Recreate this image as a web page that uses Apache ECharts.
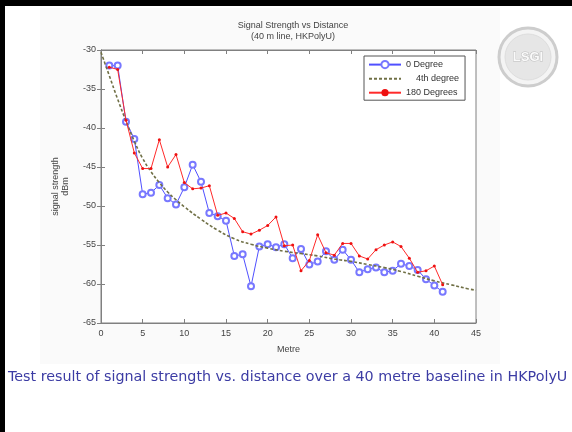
<!DOCTYPE html>
<html><head><meta charset="utf-8">
<script src="https://cdn.jsdelivr.net/npm/echarts@6/dist/echarts.min.js"></script>
<style>html,body{margin:0;padding:0;background:#fff}#c{width:572px;height:432px}</style>
</head><body><div id="c"></div>
<script>
// Distance along the line (metres)
const metres = [1,2,3,4,5,6,7,8,9,10,11,12,13,14,15,16,17,18,19,20,21,22,23,24,25,26,27,28,29,30,31,32,33,34,35,36,37,38,39,40,41];
// 0 Degree measurements (dBm)
const deg0 = [-32.0,-32.0,-39.2,-41.4,-48.5,-48.3,-47.3,-49.0,-49.8,-47.6,-44.7,-46.9,-50.9,-51.3,-51.9,-56.4,-56.2,-60.3,-55.2,-54.9,-55.3,-54.9,-56.7,-55.5,-57.5,-57.1,-55.8,-56.9,-55.6,-56.9,-58.5,-58.1,-57.9,-58.5,-58.3,-57.4,-57.7,-58.2,-59.4,-60.2,-61.0];
// 180 Degrees measurements (dBm)
const deg180 = [-32.2,-32.5,-39.0,-43.2,-45.2,-45.2,-41.5,-45.0,-43.4,-47.0,-47.8,-47.7,-47.4,-51.2,-50.9,-51.6,-53.3,-53.6,-53.1,-52.5,-51.4,-55.1,-55.0,-58.3,-57.0,-53.7,-56.0,-56.3,-54.8,-54.8,-56.4,-56.8,-55.6,-55.0,-54.6,-55.2,-56.7,-58.5,-58.3,-57.7,-60.1];
// 4th degree fit
const fitX = [0,1,2,3,4,5,6,7,8,9,10,12,14,16,18,20,22,24,26,28,30,32,34,36,38,40,42,44,45];
const fitY = [-30.3,-33.3,-36.3,-39.1,-41.7,-43.9,-45.6,-47.0,-48.2,-49.2,-50.1,-51.7,-53.1,-54.2,-54.9,-55.4,-55.8,-56.1,-56.4,-56.8,-57.1,-57.5,-57.9,-58.4,-59.0,-59.6,-60.1,-60.6,-60.8];
// Axis ticks
const xTickMin = 0, xTickMax = 45, xTickStep = 5;
const yTickMin = -65, yTickMax = -30, yTickStep = 5;
const legendNames = ['0 Degree', '    4th degree', '180 Degrees'];
const titleText = 'Signal Strength vs Distance\n(40 m line, HKPolyU)';
const captionText = 'Test result of signal strength vs. distance over a 40 metre baseline in HKPolyU';

const pair = (xs, ys) => xs.map((x, i) => [x, ys[i]]);
const chart = echarts.init(document.getElementById('c'), null, {renderer: 'canvas'});
const axisCol = '#808080';
const baseX = {
  type: 'value', min: xTickMin, max: xTickMax, interval: xTickStep,
  axisLine: {show: true, lineStyle: {color: axisCol}},
  axisTick: {show: true, inside: true, length: 4, lineStyle: {color: axisCol}},
  splitLine: {show: false}
};
const baseY = {
  type: 'value', min: yTickMin, max: yTickMax, interval: yTickStep,
  axisLine: {show: true, lineStyle: {color: axisCol}},
  axisTick: {show: true, inside: true, length: 4, lineStyle: {color: axisCol}},
  splitLine: {show: false}
};
const font = 'Liberation Sans';
chart.setOption({
  animation: false,
  backgroundColor: '#fff',
  textStyle: {fontFamily: font},
  graphic: [
    {type: 'rect', shape: {x: 40, y: 8, width: 460, height: 356}, style: {fill: '#fafafa'}, z: -10},
    {type: 'rect', shape: {x: 0, y: 0, width: 572, height: 6}, style: {fill: '#000'}, z: 10},
    {type: 'rect', shape: {x: 0, y: 0, width: 5, height: 432}, style: {fill: '#000'}, z: 10},
    {type: 'circle', shape: {cx: 528, cy: 57, r: 29}, style: {fill: '#f4f4f4', stroke: '#cdcdcd', lineWidth: 3}},
    {type: 'circle', shape: {cx: 528, cy: 57, r: 23}, style: {fill: '#e6e6e6', stroke: '#dddddd', lineWidth: 1}},
    {type: 'text', x: 528, y: 57, style: {text: 'LSGI', fill: '#fafafa', stroke: '#bdbdbd', lineWidth: 1, font: 'bold 13px Liberation Sans', align: 'center', verticalAlign: 'middle'}},
    {type: 'text', x: 8, y: 377, style: {text: captionText, fill: '#3c3ca4', font: '14.3px DejaVu Sans', verticalAlign: 'middle'}}
  ],
  title: {
    text: titleText, left: 288, top: 15, textAlign: 'center',
    textStyle: {fontSize: 9, fontWeight: 'normal', color: '#444', lineHeight: 11, fontFamily: font}
  },
  grid: {left: 101, top: 50, width: 375, height: 273, show: true, backgroundColor: '#fff', borderColor: axisCol, borderWidth: 1},
  legend: {
    show: true, orient: 'vertical', left: 364, top: 56, width: 108,
    padding: [4, 6, 3, 4], itemGap: 5, itemWidth: 32, itemHeight: 9,
    backgroundColor: '#fff', borderColor: '#555', borderWidth: 1,
    textStyle: {fontSize: 9, color: '#333', fontFamily: font},
    data: [
      {name: legendNames[0]},
      {name: legendNames[1], itemStyle: {opacity: 0}},
      {name: legendNames[2]}
    ]
  },
  xAxis: [
    Object.assign({}, baseX, {
      position: 'bottom', name: 'Metre', nameLocation: 'middle', nameGap: 22,
      nameTextStyle: {fontSize: 9, color: '#444'},
      axisLabel: {fontSize: 9, color: '#444', margin: 6}
    }),
    Object.assign({}, baseX, {position: 'top', axisLabel: {show: false}})
  ],
  yAxis: [
    Object.assign({}, baseY, {
      position: 'left', name: 'signal strength\ndBm', nameLocation: 'middle', nameGap: 30, nameRotate: 90,
      nameTextStyle: {fontSize: 9, color: '#444', lineHeight: 10},
      axisLabel: {fontSize: 9, color: '#444', margin: 5}
    }),
    Object.assign({}, baseY, {position: 'right', axisLabel: {show: false}})
  ],
  series: [
    {
      name: legendNames[0], type: 'line', data: pair(metres, deg0),
      symbol: 'emptyCircle', symbolSize: 6, showAllSymbol: true,
      lineStyle: {color: '#5050ff', width: 1},
      itemStyle: {color: '#7878ff', borderColor: '#7878ff', borderWidth: 1},
      z: 2
    },
    {
      name: legendNames[1], type: 'line', data: pair(fitX, fitY), smooth: true,
      symbol: 'none',
      lineStyle: {color: '#707046', width: 1.6, type: [3, 2]},
      itemStyle: {color: '#707046'},
      z: 3
    },
    {
      name: legendNames[2], type: 'line', data: pair(metres, deg180),
      symbol: 'circle', symbolSize: 3, showAllSymbol: true,
      lineStyle: {color: '#ff2a2a', width: 1},
      itemStyle: {color: '#ee1111'},
      z: 4
    }
  ]
});
</script>
</body></html>
